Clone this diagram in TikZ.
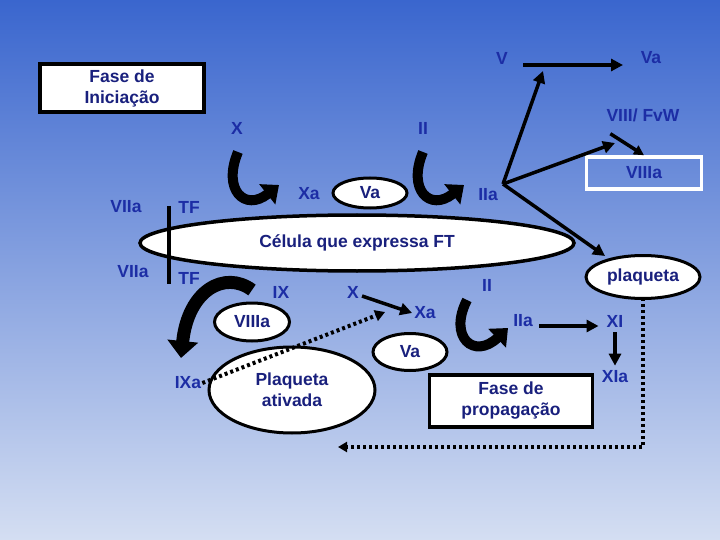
\documentclass[tikz,border=0pt]{standalone}
\usepackage{fontspec}
\setmainfont{Liberation Sans}
\usetikzlibrary{shapes.geometric,arrows.meta}
\definecolor{bgtop}{RGB}{58,102,206}
\definecolor{bgbot}{RGB}{212,222,242}
\definecolor{lbl}{RGB}{28,45,165}
\definecolor{boxtxt}{RGB}{25,32,125}
\begin{document}
\begin{tikzpicture}[x=1pt,y=-1pt,
 lab/.style={text=lbl,font=\bfseries\fontsize{17.5}{21}\selectfont,inner sep=0pt,align=center},
 oval/.style={ellipse,draw=black,line width=3pt,fill=white,inner sep=0pt,text=boxtxt,font=\bfseries\fontsize{17.5}{21}\selectfont,align=center},
 bx/.style={rectangle,draw=black,line width=3.5pt,fill=white,inner sep=0pt,text=boxtxt,font=\bfseries\fontsize{17.5}{21}\selectfont,align=center},
 arr/.style={line width=3.5pt,-{Triangle[length=12pt,width=12pt]}},
 hook/.style={line width=10pt,-{Triangle[length=15pt,width=25pt]}},
 dots/.style={line width=4pt,dash pattern=on 3pt off 3pt}]
% background
\shade[top color=bgtop,bottom color=bgbot] (0,0) rectangle (720,540);
\useasboundingbox (0,0) rectangle (720,540);

% main cell
\node[oval,line width=3.5pt,minimum width=434pt,minimum height=56pt] (cel) at (357,243) {Célula que expressa FT};

% boxes
\node[bx,minimum width=164pt,minimum height=48pt] (fi) at (122,88) {Fase de\\Iniciação};
\node[bx,minimum width=163pt,minimum height=52pt] (fp) at (511,401) {Fase de\\propagação};
\node[rectangle,draw=white,line width=3.5pt,minimum width=115pt,minimum height=32pt,inner sep=0pt,lab] (v8a) at (644,173) {VIIIa};

% ovals
\node[oval,minimum width=74pt,minimum height=30pt] (va1) at (370,193) {Va};
\node[oval,minimum width=75pt,minimum height=38pt] (v8b) at (252,322) {VIIIa};
\node[oval,minimum width=166pt,minimum height=86pt] (pa) at (292,390) {Plaqueta\\ativada};
\node[oval,minimum width=74pt,minimum height=37pt] (va2) at (410,352) {Va};
\node[oval,minimum width=114pt,minimum height=43pt] (pl) at (643,277) {plaqueta};

% labels
\node[lab] (V) at (502,58) {V};
\node[lab] (Va) at (651,58) {Va};
\node[lab] (v8) at (643,115) {VIII/ FvW};
\node[lab] (X1) at (237,128) {X};
\node[lab] (II1) at (423,128) {II};
\node[lab] (Xa1) at (309,194) {Xa};
\node[lab] (IIa1) at (488,195) {IIa};
\node[lab] (VIIa1) at (126,207) {VIIa};
\node[lab] (TF1) at (189,207) {TF};
\node[lab] (VIIa2) at (133,272) {VIIa};
\node[lab] (TF2) at (189,278) {TF};
\node[lab] (IX) at (281,292) {IX};
\node[lab] (X2) at (353,292) {X};
\node[lab] (Xa2) at (425,313) {Xa};
\node[lab] (IXa) at (188,383) {IXa};
\node[lab] (II2) at (487,285) {II};
\node[lab] (IIa2) at (523,321) {IIa};
\node[lab] (XI) at (615,321) {XI};
\node[lab] (XIa) at (615,377) {XIa};

% coordinates
\coordinate (vs) at (523,65);
\coordinate (ve) at (623,65);
\coordinate (vmid) at (543,71);
\coordinate (iiav) at (503,184);
\coordinate (v8t) at (615,143);
\coordinate (pltip) at (605,256);
\coordinate (dcorner) at (643,447);
\coordinate (dend) at (338,447);

% TF line
\draw[line width=3.5pt] (169,206) -- (169,284);

% straight arrows
\draw[arr] (vs) -- (ve);
\draw[arr] (iiav) -- (vmid);
\draw[arr] (iiav) -- (v8t);
\draw[arr] (iiav) -- (pltip);
\draw[line width=3.5pt,-{Triangle[length=10pt,width=10pt]}] ([shift={(4,12)}]v8.south west) -- (v8a.north);
\draw[arr] ([shift={(3,4)}]X2.east) -- ([shift={(-2,0)}]Xa2.west);
\draw[arr] ([shift={(6,5)}]IIa2.east) -- ([shift={(-8,5)}]XI.west);
\draw[arr] ([yshift=-5pt]XI.south) -- ([yshift=5pt]XIa.north);

% dotted
\draw[dots,-{Triangle[length=10pt,width=11pt]}] ([xshift=1pt]IXa.east) -- ([shift={(-29,-1)}]Xa2.west);
\draw[dots,-{Triangle[length=9pt,width=10pt]}] ([yshift=2pt]pl.south) -- (dcorner) -- (dend);

% hook arrows
\draw[hook] (238,152) .. controls (222,190) and (245,212) .. (279,185);
\draw[hook] (423,152) .. controls (407,190) and (430,212) .. (464,185);
\draw[hook] (467,300) .. controls (448,337) and (474,360) .. (508,328);
\draw[line width=13pt,-{Triangle[length=17pt,width=30pt]}] (252,290) .. controls (225,270) and (188,290) .. (181,358);
\end{tikzpicture}
\end{document}
